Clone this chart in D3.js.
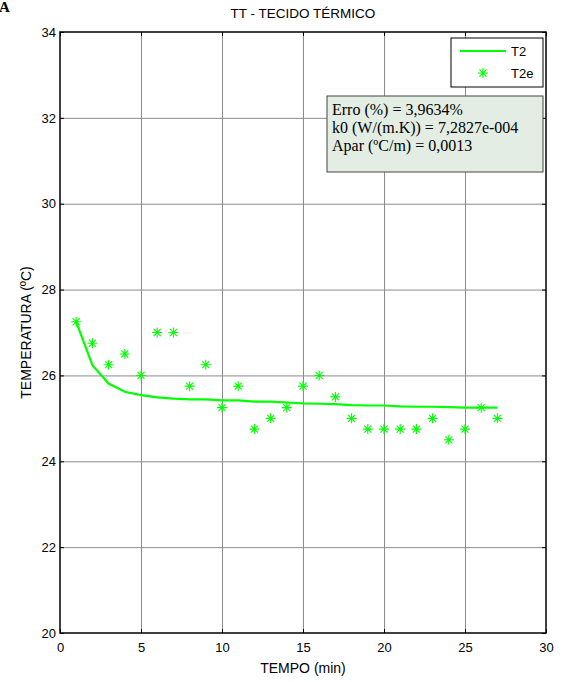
<!DOCTYPE html>
<html>
<head>
<meta charset="utf-8">
<script src="https://cdn.jsdelivr.net/npm/d3@7"></script>
<style>
  body { margin: 0; background: #fff; }
  svg { display: block; }
</style>
</head>
<body>
<div id="chart"></div>
<script>
// measured curve T2 and experimental points T2e
var tempo = [1,2,3,4,5,6,7,8,9,10,11,12,13,14,15,16,17,18,19,20,21,22,23,24,25,26,27];
var t2 = [27.25,26.24,25.81,25.62,25.54,25.49,25.46,25.44,25.44,25.42,25.42,25.39,25.39,25.37,
          25.35,25.34,25.33,25.31,25.30,25.30,25.28,25.27,25.27,25.26,25.25,25.25,25.25];
var t2e = [27.25,26.75,26.25,26.5,26.0,27.0,27.0,25.75,26.25,25.25,25.75,24.75,25.0,25.25,
           25.75,26.0,25.5,25.0,24.75,24.75,24.75,24.75,25.0,24.5,24.75,25.25,25.0];
var xTicks = [0,5,10,15,20,25,30];
var yTicks = [20,22,24,26,28,30,32,34];
var infoLines = ["Erro (%) = 3,9634%", "k0 (W/(m.K)) = 7,2827e-004", "Apar (\u00BAC/m) = 0,0013"];

var W = 563, H = 682;
var m = {left: 60, right: 17, top: 32, bottom: 49};
var iw = W - m.left - m.right, ih = H - m.top - m.bottom;
var green = "#00ff00";

var svg = d3.select("#chart").append("svg")
    .attr("width", W).attr("height", H)
    .style("font-family", "Arial, 'Liberation Sans', sans-serif");

var x = d3.scaleLinear().domain([0, 30]).range([m.left, m.left + iw]);
var y = d3.scaleLinear().domain([20, 34]).range([m.top + ih, m.top]);

// grid
var grid = svg.append("g").attr("stroke", "#8c8c8c").attr("stroke-width", 1);
grid.selectAll("line.gx").data(xTicks.slice(1, -1)).enter().append("line")
    .attr("x1", function (d) { return x(d) + 0.5; }).attr("x2", function (d) { return x(d) + 0.5; })
    .attr("y1", m.top).attr("y2", m.top + ih);
grid.selectAll("line.gy").data(yTicks.slice(1, -1)).enter().append("line")
    .attr("y1", function (d) { return y(d) + 0.5; }).attr("y2", function (d) { return y(d) + 0.5; })
    .attr("x1", m.left).attr("x2", m.left + iw);

// axes (MATLAB style, ticks inside)
function styleAxis(g) {
    g.select(".domain").remove();
    g.selectAll(".tick line").attr("stroke", "#000");
    g.selectAll(".tick text").attr("font-size", 13).attr("fill", "#000")
        .attr("font-family", "Arial, 'Liberation Sans', sans-serif");
}
svg.append("g").attr("transform", "translate(0," + (m.top + ih) + ")")
    .call(d3.axisBottom(x).tickValues(xTicks).tickSizeInner(-4).tickSizeOuter(0).tickPadding(10))
    .call(styleAxis);
svg.append("g").attr("transform", "translate(0," + m.top + ")")
    .call(d3.axisTop(x).tickValues(xTicks).tickSizeInner(-4).tickSizeOuter(0).tickFormat(""))
    .call(styleAxis);
svg.append("g").attr("transform", "translate(" + m.left + ",0)")
    .call(d3.axisLeft(y).tickValues(yTicks).tickSizeInner(-4).tickSizeOuter(0).tickPadding(4))
    .call(styleAxis);
svg.append("g").attr("transform", "translate(" + (m.left + iw) + ",0)")
    .call(d3.axisRight(y).tickValues(yTicks).tickSizeInner(-4).tickSizeOuter(0).tickFormat(""))
    .call(styleAxis);

svg.append("rect").attr("x", m.left).attr("y", m.top).attr("width", iw).attr("height", ih)
    .attr("fill", "none").attr("stroke", "#000").attr("stroke-width", 1.5);

// T2 line
var line = d3.line().x(function (d, i) { return x(tempo[i]); }).y(function (d) { return y(d); });
svg.append("path").datum(t2).attr("d", line)
    .attr("fill", "none").attr("stroke", green).attr("stroke-width", 2.2);

// asterisk marker
function asterisk(r) {
    var d = r * 0.707;
    return "M" + (-r) + ",0H" + r + "M0," + (-r) + "V" + r +
        "M" + (-d) + "," + (-d) + "L" + d + "," + d + "M" + (-d) + "," + d + "L" + d + "," + (-d);
}
svg.append("g").selectAll("path").data(t2e).enter().append("path")
    .attr("transform", function (d, i) { return "translate(" + x(tempo[i]) + "," + y(d) + ")"; })
    .attr("d", asterisk(5))
    .attr("fill", "none").attr("stroke", green).attr("stroke-width", 1.1);

// legend
var lg = svg.append("g");
lg.append("rect").attr("x", 451).attr("y", 38).attr("width", 92).attr("height", 49)
    .attr("fill", "#fff").attr("stroke", "#000").attr("stroke-width", 1);
lg.append("line").attr("x1", 460).attr("x2", 506).attr("y1", 51).attr("y2", 51)
    .attr("stroke", green).attr("stroke-width", 2.2);
lg.append("text").attr("x", 511).attr("y", 55.5).attr("font-size", 13).text("T2");
lg.append("path").attr("transform", "translate(483,73)").attr("d", asterisk(5))
    .attr("fill", "none").attr("stroke", green).attr("stroke-width", 1.1);
lg.append("text").attr("x", 511).attr("y", 77.5).attr("font-size", 13).text("T2e");

// info box
var ib = svg.append("g");
ib.append("rect").attr("x", 327).attr("y", 96).attr("width", 216).attr("height", 76)
    .attr("fill", "#e3ede3").attr("stroke", "#444").attr("stroke-width", 1);
ib.selectAll("text").data(infoLines).enter().append("text")
    .attr("x", 332).attr("y", function (d, i) { return 115 + i * 18; })
    .attr("font-family", "'Liberation Serif', 'Times New Roman', serif")
    .attr("font-size", 16).attr("fill", "#000")
    .text(function (d) { return d; });

// titles
svg.append("text").attr("x", x(15)).attr("y", 18).attr("text-anchor", "middle")
    .attr("font-size", 13.5).text("TT - TECIDO T\u00C9RMICO");
svg.append("text").attr("x", x(15)).attr("y", 673).attr("text-anchor", "middle")
    .attr("font-size", 14).text("TEMPO (min)");
svg.append("text").attr("transform", "translate(31," + y(27) + ") rotate(-90)")
    .attr("text-anchor", "middle").attr("font-size", 14).text("TEMPERATURA (\u00BAC)");
svg.append("text").attr("x", -1).attr("y", 12)
    .attr("font-family", "'Liberation Serif', 'Times New Roman', serif")
    .attr("font-weight", "bold").attr("font-size", 15).text("A");
</script>
</body>
</html>
